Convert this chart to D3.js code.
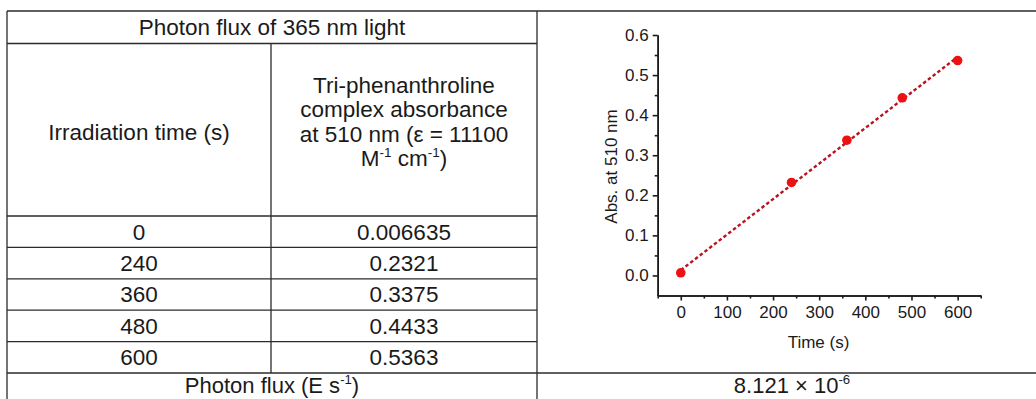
<!DOCTYPE html>
<html>
<head>
<meta charset="utf-8">
<script src="https://cdn.jsdelivr.net/npm/d3@7"></script>
<style>
  body { margin: 0; background: #fff; }
  svg { display: block; font-family: "Liberation Sans", Arial, sans-serif; }
</style>
</head>
<body>
<svg id="chart" width="1036" height="399"></svg>
<script>
// data
const tableTitle = 'Photon flux of 365 nm light';
const colTimeHeader = 'Irradiation time (s)';
const times = [0, 240, 360, 480, 600];
const absorbance = [0.006635, 0.2321, 0.3375, 0.4433, 0.5363];
const fluxLabel = [['Photon flux (E s', 0], ['-1', 1], [')', 0]];
const fluxValue = [['8.121 × 10', 0], ['-6', 1]];
const xTicks = [0, 100, 200, 300, 400, 500, 600];
const yTicks = [0, 0.1, 0.2, 0.3, 0.4, 0.5, 0.6];
const xMinor = [-50, 50, 150, 250, 350, 450, 550, 650];
const yMinor = [0.05, 0.15, 0.25, 0.35, 0.45, 0.55];

const svg = d3.select('#chart');
const ink = '#1a1a1a';

// table layout
const tLeft = 7, tMid = 271, tSplit = 537, tRight = 1036;
const tTop = 11, headBottom = 43.5, rowTop = 216, rowH = 31.4;
const footTop = rowTop + rowH * times.length;

const grid = svg.append('g').attr('stroke', '#2b2b2b').attr('stroke-width', 1.3);
const hLines = [[tTop, tLeft, tRight], [headBottom, tLeft, tSplit], [footTop, tLeft, tRight]]
    .concat(times.map((t, i) => [rowTop + i * rowH, tLeft, tSplit]));
grid.selectAll('.h').data(hLines).enter().append('line')
    .attr('x1', d => d[1]).attr('x2', d => d[2])
    .attr('y1', d => d[0]).attr('y2', d => d[0]);
const vLines = [[tLeft, tTop, 399], [tMid, headBottom, footTop], [tSplit, tTop, 399]];
grid.selectAll('.v').data(vLines).enter().append('line')
    .attr('x1', d => d[0]).attr('x2', d => d[0])
    .attr('y1', d => d[1]).attr('y2', d => d[2]);

// text with optional superscripts, centred on (cx, cy)
function label(cx, cy, parts, size) {
    if (typeof parts === 'string') parts = [[parts, 0]];
    const t = svg.append('text')
        .attr('x', cx).attr('y', cy + size * 0.35)
        .attr('text-anchor', 'middle')
        .attr('font-size', size)
        .attr('fill', ink);
    let up = false;
    parts.forEach(p => {
        const s = t.append('tspan').text(p[0]);
        if (p[1]) {
            s.attr('font-size', size * 0.6).attr('dy', up ? 0 : -size * 0.4);
            up = true;
        } else {
            s.attr('dy', up ? size * 0.4 : 0);
            up = false;
        }
    });
    return t;
}

const fs = 22.5;
label(272, 27, tableTitle, fs);
label((tLeft + tMid) / 2, 132, colTimeHeader, fs);
const absHeader = [
    'Tri-phenanthroline',
    'complex absorbance',
    'at 510 nm (ε = 11100',
    [['M', 0], ['-1', 1], [' cm', 0], ['-1', 1], [')', 0]]
];
absHeader.forEach((l, i) => label((tMid + tSplit) / 2, 85 + i * 24.5, l, fs));
times.forEach((t, i) => {
    const cy = rowTop + i * rowH + rowH / 2;
    label((tLeft + tMid) / 2, cy, String(t), fs);
    label((tMid + tSplit) / 2, cy, String(absorbance[i]), fs);
});
label(272, footTop + 12.5, fluxLabel, 22);
label(792, footTop + 12.5, fluxValue, 22);

// plot
const x = d3.scaleLinear().domain([-50, 650]).range([657.7, 980.7]);
const y = d3.scaleLinear().domain([-0.05, 0.6]).range([295.5, 35]);

const axes = svg.append('g').attr('color', ink);
axes.append('g')
    .attr('transform', `translate(0,${y(-0.05)})`)
    .call(d3.axisBottom(x).tickValues(xMinor).tickSize(3).tickFormat('').tickSizeOuter(0));
axes.append('g')
    .attr('transform', `translate(0,${y(-0.05)})`)
    .call(d3.axisBottom(x).tickValues(xTicks).tickSize(5).tickPadding(5).tickSizeOuter(0));
axes.append('g')
    .attr('transform', `translate(${x(-50)},0)`)
    .call(d3.axisLeft(y).tickValues(yMinor).tickSize(3).tickFormat('').tickSizeOuter(0));
axes.append('g')
    .attr('transform', `translate(${x(-50)},0)`)
    .call(d3.axisLeft(y).tickValues(yTicks).tickSize(5).tickPadding(4)
        .tickFormat(d3.format('.1f')).tickSizeOuter(0));
axes.selectAll('path.domain, .tick line').attr('stroke-width', 1.6);
axes.selectAll('.tick text').attr('font-size', 17).attr('font-family', '"Liberation Sans", Arial, sans-serif');

svg.append('text')
    .attr('x', 818.5).attr('y', 348)
    .attr('text-anchor', 'middle').attr('font-size', 17).attr('fill', ink)
    .text('Time (s)');
svg.append('text')
    .attr('transform', `translate(616.5,166.5) rotate(-90)`)
    .attr('text-anchor', 'middle').attr('font-size', 17).attr('fill', ink)
    .text('Abs. at 510 nm');

// least squares fit line
const mx = d3.mean(times), my = d3.mean(absorbance);
const slope = d3.sum(times, (t, i) => (t - mx) * (absorbance[i] - my)) /
    d3.sum(times, t => (t - mx) * (t - mx));
const icpt = my - slope * mx;
const ext = d3.extent(times);
svg.append('line')
    .attr('x1', x(ext[0])).attr('y1', y(icpt + slope * ext[0]))
    .attr('x2', x(ext[1])).attr('y2', y(icpt + slope * ext[1]))
    .attr('stroke', '#b8141f').attr('stroke-width', 2.4)
    .attr('stroke-dasharray', '3.5,2.5');

svg.selectAll('.pt').data(times).enter().append('circle')
    .attr('cx', d => x(d))
    .attr('cy', (d, i) => y(absorbance[i]))
    .attr('r', 4.8)
    .attr('fill', '#ee1111');
</script>
</body>
</html>
